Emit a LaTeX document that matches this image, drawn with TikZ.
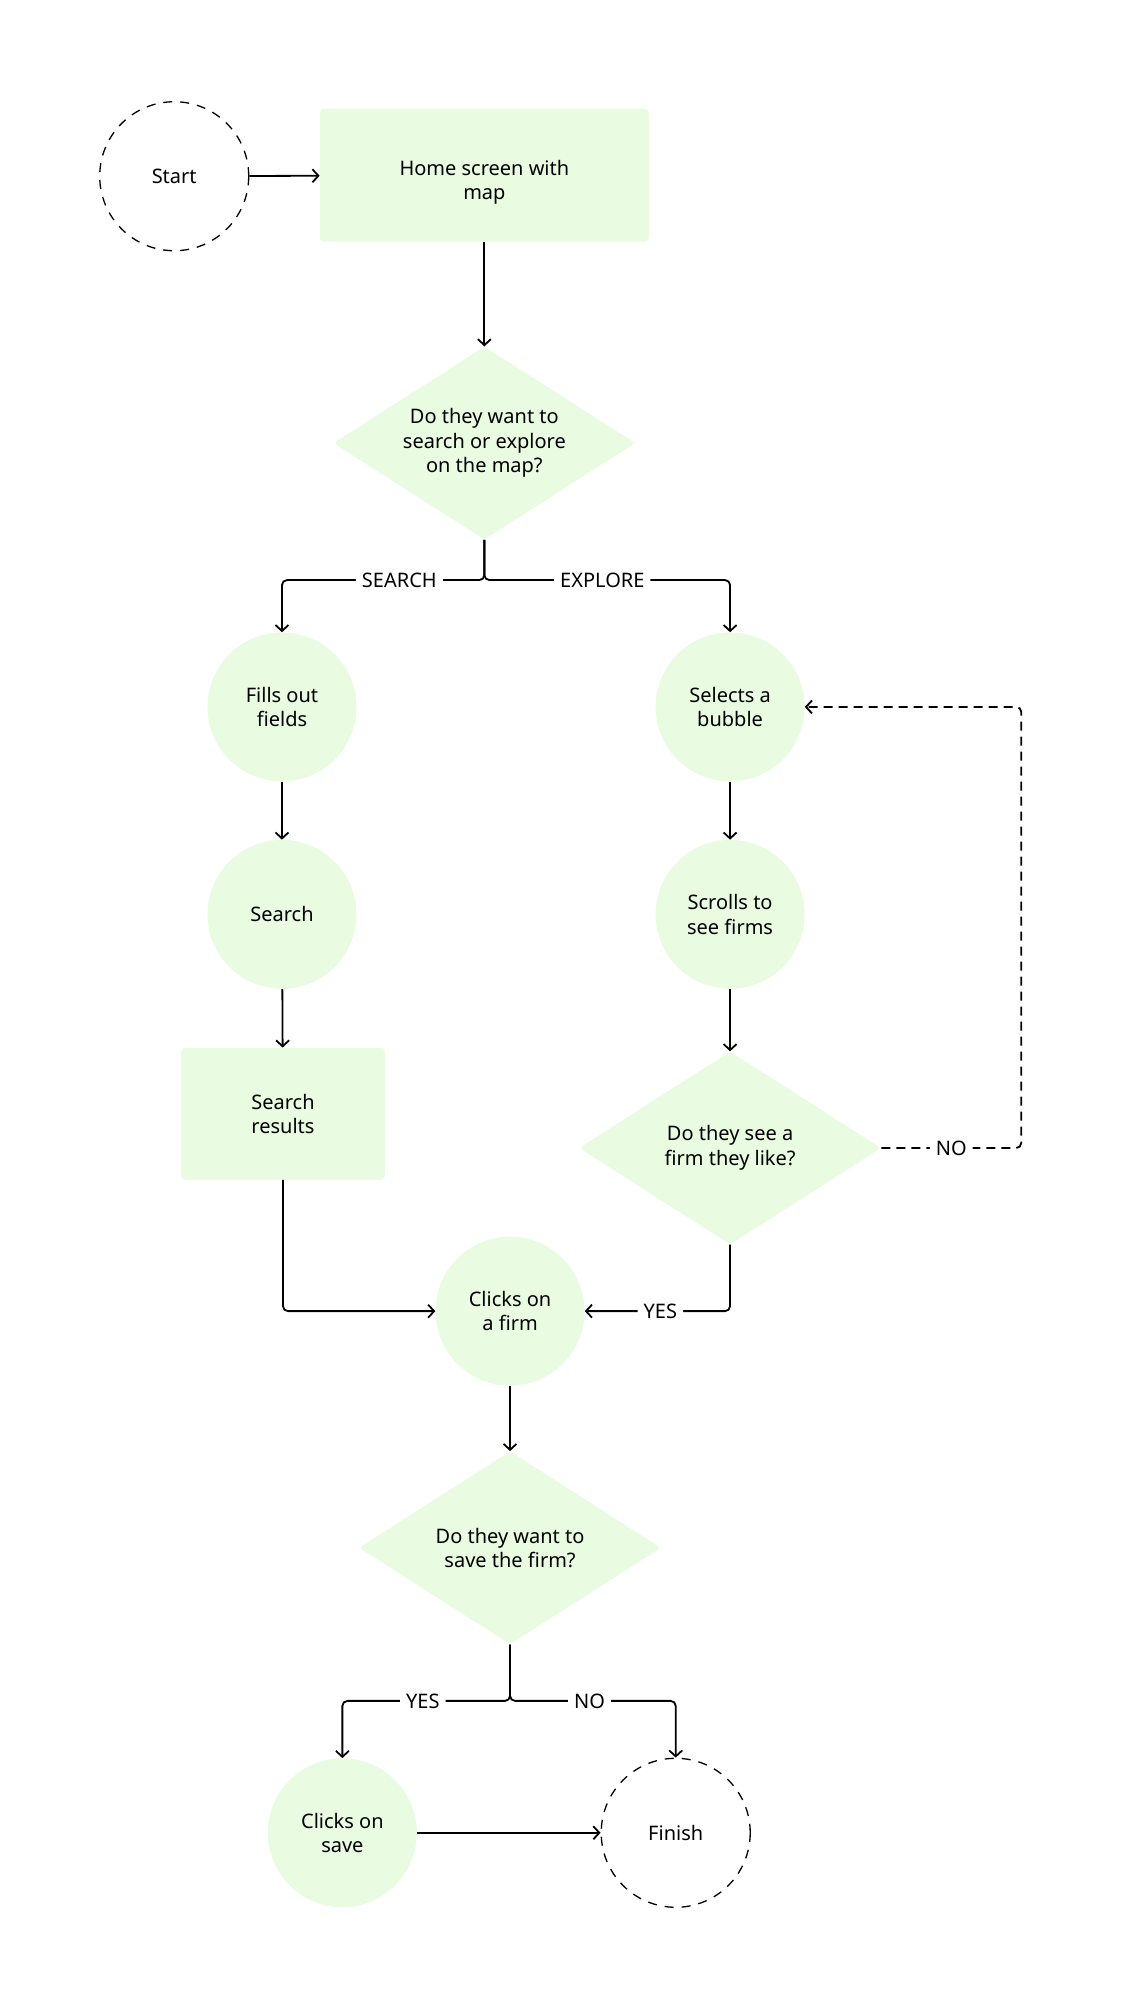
\documentclass[tikz,border=0pt]{standalone}
\usepackage{fontspec}
\setmainfont{Noto Sans}
\usetikzlibrary{shapes.geometric,arrows.meta}
\definecolor{boxgreen}{HTML}{E9FCE2}
\begin{document}
\begin{tikzpicture}[x=1.007pt,y=-1.007pt,
 every node/.style={font=\fontsize{20}{24.5}\selectfont, align=center},
 circ/.style={circle, fill=boxgreen, minimum size=149pt, inner sep=0pt},
 term/.style={circle, draw=black, line width=1.3pt, dash pattern=on 9pt off 8pt, minimum size=149pt, inner sep=0pt},
 rbox/.style={rectangle, rounded corners=4pt, fill=boxgreen, inner sep=0pt},
 decision/.style={diamond, fill=boxgreen, minimum width=302pt, minimum height=193pt, inner sep=0pt, aspect=1.5625, rounded corners=4pt},
 conn/.style={line width=1.8pt, -{Straight Barb[length=6pt,width=13pt,line width=1.8pt]}, rounded corners=5pt},
 lab/.style={fill=white, inner sep=6pt}]
\useasboundingbox (0,0) rectangle (1113.2,1996);

\node[term] (start) at (173,175) {Start};
\node[rbox, minimum width=329pt, minimum height=133pt] (home) at (481,174) {};
\node (hometext) at (481,181) {Home screen with\\map};
\node[decision] (d1) at (481,440) {Do they want to\\search or explore\\on the map?};
\node[circ] (fills) at (280,702) {Fills out\\fields};
\node[circ] (search) at (280,908) {Search};
\node[rbox, minimum width=204pt, minimum height=132pt] (results) at (281,1106) {Search\\results};
\node[circ] (bubble) at (725,702) {Selects a\\bubble};
\node[circ] (scrolls) at (725,908) {Scrolls to\\see firms};
\node[decision] (d2) at (725,1140) {Do they see a\\firm they like?};
\node[circ] (clicks) at (506.5,1302) {Clicks on\\a firm};
\node[decision] (d3) at (506.5,1537) {Do they want to\\save the firm?};
\node[circ] (save) at (340,1820) {Clicks on\\save};
\node[term] (finish) at (671,1820) {Finish};

\draw[conn] (start) -- (home);
\draw[conn] (home) -- (d1);
\draw[conn] (d1.south) -- ++(0,40) -| node[lab,pos=0.21]{SEARCH} (fills.north);
\draw[conn] (d1.south) -- ++(0,40) -| node[lab,pos=0.24]{EXPLORE} (bubble.north);
\draw[conn] (fills) -- (search);
\draw[conn] (search) -- (results);
\draw[conn] (bubble) -- (scrolls);
\draw[conn] (scrolls) -- (d2);
\draw[conn, dash pattern=on 9pt off 6pt] (d2.east) -- ++(139,0) node[lab,pos=0.5]{NO} |- (bubble.east);
\draw[conn] (d2.south) |- node[lab,pos=0.74]{YES} (clicks.east);
\draw[conn] (results.south) |- (clicks.west);
\draw[conn] (clicks) -- (d3);
\draw[conn] (d3.south) -- ++(0,56) -| node[lab,pos=0.26]{YES} (save.north);
\draw[conn] (d3.south) -- ++(0,56) -| node[lab,pos=0.24]{NO} (finish.north);
\draw[conn] (save) -- (finish);
\end{tikzpicture}
\end{document}
